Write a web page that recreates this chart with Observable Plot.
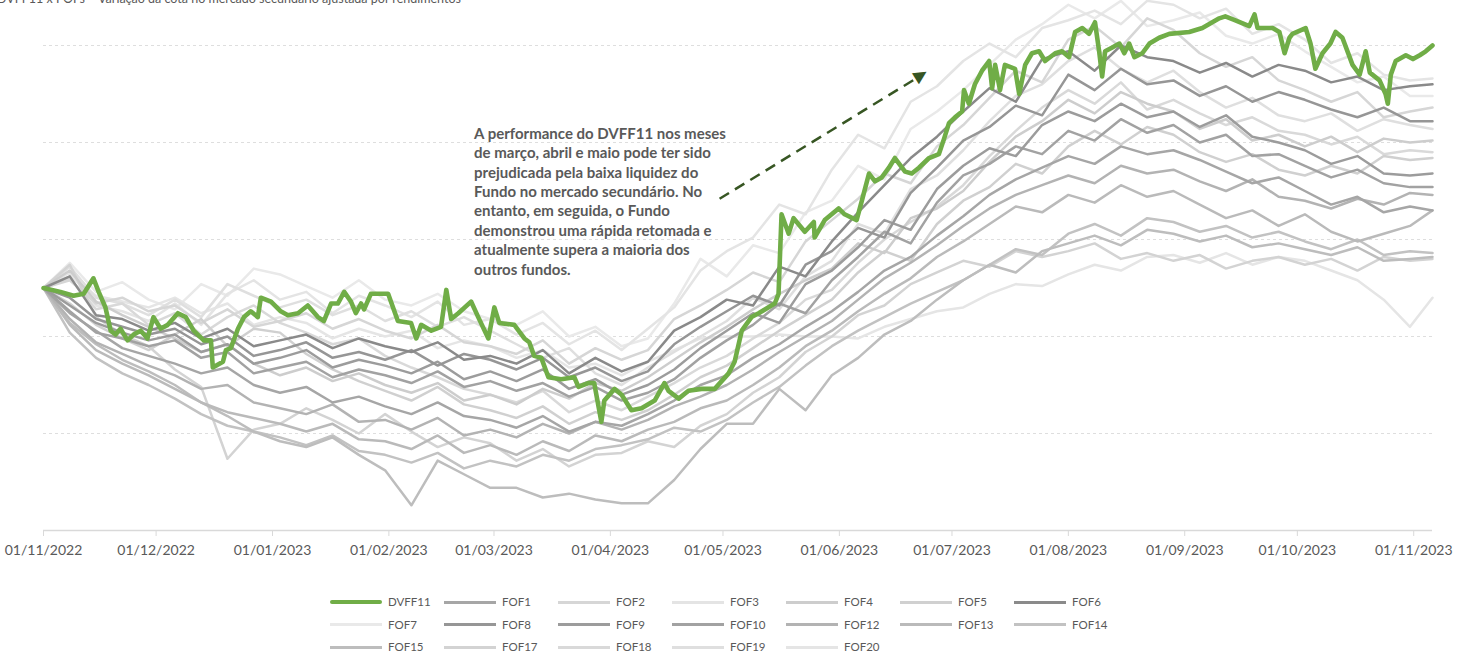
<!DOCTYPE html>
<html><head><meta charset="utf-8">
<script src="https://cdn.jsdelivr.net/npm/d3@7"></script>
<script src="https://cdn.jsdelivr.net/npm/@observablehq/plot@0.6"></script>
<style>
body{margin:0;background:#fff;font-family:Lato,"Open Sans",sans-serif;overflow:hidden;}
#wrap{position:relative;width:1465px;height:652px;overflow:hidden;background:#fff;}
#title{position:absolute;left:-3px;top:-9px;font-size:12.5px;color:#595959;white-space:nowrap;}
#chart{position:absolute;left:0;top:0;}
#legend{position:absolute;left:330px;top:591px;display:grid;grid-template-columns:repeat(7,114px);}
.item{display:flex;align-items:center;height:22.5px;font-size:11.5px;line-height:12px;color:#595959;white-space:nowrap;}
.sw{width:52px;height:0;border-top:3px solid;margin-right:6px;}
</style></head>
<body><div id="wrap">
<div id="title">DVFF11 x FOFs – Variação da cota no mercado secundário ajustada por rendimentos</div>
<div id="chart"></div>
<div id="legend"></div>
</div>
<script>
// ---------- DATA ----------
const inicio = "2022-11-01";
const meses = ["2022-11-01","2022-12-01","2023-01-01","2023-02-01","2023-03-01","2023-04-01","2023-05-01","2023-06-01","2023-07-01","2023-08-01","2023-09-01","2023-10-01","2023-11-01"];
const grade = [-7.5, -2.5, 2.5, 7.5, 12.5];
const eixoBase = -12.5;

// dias desde 01/11/2022 (semanal) para os FOFs
const dias = [0,7,14,21,28,35,42,49,56,63,70,77,84,91,98,105,112,119,126,133,140,147,154,161,168,175,182,189,196,203,210,217,224,231,238,245,252,259,266,273,280,287,294,301,308,315,322,329,336,343,350,357,364,370];

const dvffDias = [0,4.5,8.0,10.7,13.3,14.7,16.5,17.9,19.2,20.5,22.4,24.0,25.9,27.7,29.3,31.2,33.1,35.8,37.9,40.0,42.7,44.6,45.1,47.8,48.6,49.9,51.8,53.4,55.2,57.1,57.9,60.6,63.2,65.1,67.8,70.4,73.1,74.7,76.6,78.4,80.1,81.9,83.2,84.6,85.4,87.2,91.8,94.4,97.9,99.3,100.6,103.3,105.9,107.3,108.6,110.5,113.9,115.8,118.5,120.1,121.4,125.4,128.1,129.4,130.7,132.6,134.5,137.9,141.4,142.5,145.1,146.7,148.6,149.4,152.1,154.0,156.6,159.3,162.8,165.4,166.5,169.2,171.8,175.3,178.8,182.5,184.1,186.0,188.6,190.5,194.8,195.8,196.6,198.5,199.8,202.8,205.2,205.4,208.1,211.8,213.4,216.6,218.0,219.9,221.5,223.3,225.2,226.8,229.5,231.3,233.2,235.9,238.5,239.9,241.2,242.8,244.7,245.2,246.5,248.1,250.0,251.9,252.7,253.5,254.8,256.1,258.8,259.9,261.5,263.3,265.2,266.8,269.5,271.3,273.2,274.8,276.7,278.5,280.1,281.2,282.0,282.8,284.7,286.6,287.9,289.2,290.6,292.7,294.6,297.2,299.9,305.2,308.7,313.2,314.8,317.5,321.2,322.6,323.4,327.4,329.2,330.6,331.9,332.7,336.2,337.5,338.8,340.7,342.8,344.2,346.0,348.7,350.6,352.2,353.3,355.9,357.5,358.1,358.9,360.2,362.9,364.8,366.6,368.2,370.0];
const DVFF11 = [0,-0.2,-0.4,-0.3,0.5,-0.2,-1.0,-2.2,-2.4,-2.1,-2.7,-2.4,-2.2,-2.6,-1.5,-2.1,-1.9,-1.3,-1.5,-2.2,-2.7,-2.7,-4.1,-3.8,-3.2,-3.1,-2.1,-1.5,-1.2,-1.5,-0.5,-0.7,-1.2,-1.4,-1.3,-0.9,-1.5,-1.7,-0.8,-0.8,-0.2,-0.7,-1.3,-0.8,-1.1,-0.3,-0.3,-1.7,-1.8,-2.6,-1.9,-2.2,-2.0,-0.1,-1.6,-1.3,-0.7,-1.5,-2.6,-1.0,-1.8,-1.9,-2.6,-2.8,-3.5,-3.6,-4.6,-4.7,-4.6,-5.1,-4.9,-4.9,-6.9,-5.8,-5.2,-5.5,-6.3,-6.2,-5.8,-4.9,-5.3,-5.7,-5.3,-5.2,-5.2,-4.4,-3.8,-2.2,-1.5,-1.3,-0.8,-0.3,3.8,2.8,3.6,2.9,3.4,2.6,3.5,4.1,3.8,3.5,4.5,5.9,5.5,5.7,6.2,6.7,6.0,5.9,6.2,6.7,6.9,7.7,8.5,8.8,9.1,10.2,9.5,10.5,11.2,11.7,10.3,11.5,10.2,11.5,11.3,10.0,11.5,12.1,12.2,11.7,12.1,12.2,11.9,13.2,13.4,13.1,13.7,12.2,10.9,12.2,12.4,12.6,12.1,12.6,11.9,12.1,12.6,12.9,13.1,13.2,13.4,13.9,14.0,13.8,13.5,14.1,13.4,13.4,13.2,12.1,12.9,13.1,13.4,12.6,11.3,12.1,12.6,13.2,12.9,11.5,11.0,12.2,11.1,10.7,10.0,9.5,11.0,11.7,12.0,11.8,12.0,12.2,12.5];

const FOF1  = [0,-1.3,-2.2,-3.1,-3.5,-3.9,-4.4,-4.1,-5.0,-5.4,-5.1,-5.9,-5.6,-6.1,-6.5,-5.9,-6.6,-6.8,-7.2,-6.6,-7.4,-6.9,-7.1,-6.5,-5.8,-5.0,-4.5,-3.6,-2.9,-2.0,-1.2,-0.2,0.9,1.6,2.7,3.7,4.8,5.6,6.2,6.8,6.4,7.3,6.9,7.1,6.6,6.0,5.4,5.7,5.0,4.3,4.7,3.9,4.2,4.0];
const FOF2  = [0,0.4,-0.8,-0.5,-1.2,-0.9,-1.8,-1.1,-2.0,-1.7,-1.3,-2.1,-1.6,-2.2,-2.6,-1.9,-2.8,-3.0,-3.4,-2.7,-3.9,-3.1,-3.7,-3.2,-1.6,-0.9,-0.1,0.8,0.3,2.4,3.5,4.6,5.9,5.4,7.3,8.4,9.8,11.2,10.6,12.8,13.5,12.4,13.9,13.3,12.1,11.4,11.9,10.7,10.2,9.6,10.1,8.8,9.1,9.3];
const FOF3  = [0,0.8,-0.9,-1.2,-1.7,-0.8,-1.9,-0.3,0.4,-0.6,-0.2,-1.3,-0.4,-0.9,-1.5,-0.7,-1.9,-1.6,-2.4,-1.8,-2.9,-2.2,-3.2,-2.1,-1.0,0.9,1.9,2.6,4.3,3.8,6.1,7.9,7.2,9.6,10.4,11.7,12.6,11.9,13.4,13.8,14.3,13.6,14.8,14.6,13.9,14.4,13.1,13.6,12.8,11.6,12.1,11.0,10.7,10.8];
const FOF4  = [0,0.9,-0.7,-1.4,-2.0,-2.6,-3.3,-2.9,-3.9,-4.5,-4.1,-4.8,-4.4,-5.0,-5.4,-4.9,-5.8,-5.5,-6.0,-5.2,-5.7,-4.9,-5.3,-4.6,-3.7,-2.8,-2.0,-1.1,-0.3,0.4,1.0,2.3,1.8,3.6,4.1,5.0,6.5,7.8,8.6,9.7,9.0,10.1,9.5,9.1,8.2,8.7,7.6,7.9,7.3,7.8,7.0,7.7,7.5,7.6];
const FOF5  = [0,-0.8,-1.9,-2.6,-3.2,-2.4,-1.6,-3.0,-2.1,-2.3,-3.4,-4.2,-4.8,-5.3,-5.8,-5.1,-6.0,-6.3,-6.7,-6.1,-7.0,-6.4,-6.8,-6.3,-5.5,-4.6,-4.0,-3.1,-2.2,-1.4,-0.6,0.8,1.9,1.4,3.3,4.5,5.2,6.4,5.9,7.3,8.1,7.4,8.3,7.9,7.0,6.5,6.9,6.1,5.8,6.3,5.9,6.8,6.6,6.7];
const FOF6  = [0,0.6,-1.4,-1.6,-2.2,-1.8,-2.6,-2.1,-3.0,-2.7,-2.4,-3.1,-2.6,-3.0,-3.3,-2.8,-3.7,-3.5,-3.9,-3.2,-4.4,-3.6,-4.3,-3.8,-2.2,-1.5,-0.6,-0.9,1.1,0.6,2.4,3.9,5.3,6.7,7.8,9.1,10.3,9.6,11.8,12.2,11.2,12.5,11.9,11.7,11.1,11.6,10.9,11.5,11.2,10.6,10.9,10.2,10.4,10.5];
const FOF7  = [0,1.3,-0.2,0.3,-0.6,-1.1,0.2,-0.4,1.0,0.7,0.1,-0.5,0.4,-0.6,-0.9,-0.3,-1.2,-1.6,-1.9,-1.2,-2.5,-2.0,-3.0,-2.6,-0.8,1.5,0.6,2.2,1.8,3.9,4.5,6.3,5.6,8.2,9.1,10.2,11.5,12.8,13.6,14.6,13.9,14.8,13.5,13.8,14.2,13.0,12.6,13.1,12.2,11.4,10.6,10.9,9.9,9.9];
const FOF8  = [0,-0.5,-1.6,-2.0,-2.4,-2.1,-2.9,-2.5,-3.5,-3.2,-2.8,-3.6,-3.3,-3.7,-3.2,-4.0,-3.4,-3.7,-4.2,-3.6,-4.6,-4.1,-4.8,-4.3,-2.9,-2.0,-1.2,-0.4,-0.9,1.2,1.9,3.1,2.6,4.9,6.2,7.6,8.3,9.4,8.9,11.0,10.2,11.3,10.5,10.7,9.9,10.4,9.6,10.1,9.7,9.2,8.8,9.3,8.6,8.6];
const FOF9  = [0,-0.9,-1.8,-2.3,-2.7,-2.4,-3.3,-2.9,-3.9,-3.6,-3.2,-4.1,-3.7,-4.0,-4.4,-3.8,-4.7,-4.3,-4.8,-4.2,-5.2,-4.7,-5.5,-5.0,-4.2,-3.1,-2.2,-1.3,-1.8,0.2,0.9,2.1,3.5,3.0,5.1,6.3,7.2,6.8,8.4,9.1,8.6,9.5,8.8,9.1,8.3,8.9,7.8,7.5,7.1,6.4,6.8,5.9,5.8,5.9];
const FOF10 = [0,-1.2,-2.3,-2.6,-3.0,-2.7,-3.6,-3.3,-4.4,-4.1,-3.8,-4.6,-4.2,-4.5,-4.9,-4.3,-5.1,-4.8,-5.3,-4.9,-5.6,-5.1,-5.8,-5.4,-4.7,-3.6,-2.7,-1.9,-0.8,-1.3,0.4,1.6,2.9,2.3,4.4,5.8,6.4,7.3,6.9,8.1,7.6,8.7,8.0,8.4,7.5,7.9,6.8,6.9,6.3,5.7,6.1,5.4,5.2,5.2];
const FOF12 = [0,-1.6,-2.8,-3.4,-4.0,-4.5,-5.2,-5.0,-5.9,-6.2,-6.5,-6.0,-6.9,-6.8,-7.3,-6.7,-7.6,-7.3,-7.7,-7.0,-7.5,-6.9,-7.3,-6.8,-6.1,-5.6,-5.0,-4.2,-3.3,-2.5,-1.7,-0.6,0.5,1.3,2.2,3.2,4.1,4.8,5.3,5.8,5.4,6.3,5.9,6.1,5.5,5.0,5.6,4.7,4.5,4.1,4.6,4.3,4.9,4.8];
const FOF13 = [0,-1.9,-3.2,-3.9,-4.5,-5.2,-5.9,-6.4,-6.7,-7.0,-7.4,-7.0,-7.8,-7.9,-8.3,-7.6,-8.5,-8.1,-8.6,-7.9,-8.4,-7.6,-7.9,-7.3,-6.9,-6.2,-5.8,-5.0,-4.1,-3.0,-2.2,-1.2,-0.3,0.5,1.6,2.4,3.3,4.2,3.9,4.8,4.4,5.3,4.7,5.0,4.3,3.6,4.0,3.2,3.8,2.9,2.4,2.8,3.2,4.0];
const FOF14 = [0,-2.3,-3.6,-4.4,-5.0,-5.7,-6.5,-7.1,-7.4,-7.7,-8.1,-7.6,-8.4,-8.6,-9.0,-8.5,-9.3,-8.9,-9.2,-8.6,-8.9,-8.3,-8.1,-7.8,-7.2,-7.4,-6.8,-5.9,-5.1,-4.0,-3.0,-2.2,-1.5,-0.8,-0.2,0.4,1.2,2.0,1.7,2.8,3.3,2.7,3.6,3.4,2.9,3.2,2.6,2.9,2.4,2.0,2.5,1.7,1.9,1.8];
const FOF15 = [0,-1.8,-2.9,-3.7,-4.3,-5.0,-5.9,-6.6,-7.4,-7.9,-8.2,-7.7,-8.6,-9.4,-11.2,-8.9,-9.6,-10.3,-10.3,-10.8,-10.6,-10.9,-11.1,-11.1,-9.9,-8.3,-7.0,-7.0,-5.2,-6.3,-4.5,-3.6,-2.4,-1.7,-0.6,0.4,1.2,0.8,1.9,2.3,2.7,2.2,3.0,2.8,2.4,2.7,2.1,2.3,2.0,1.7,2.1,1.4,1.5,1.6];
const FOF17 = [0,1.2,-1.5,-2.4,-3.0,-4.2,-5.1,-8.8,-7.3,-7.0,-6.2,-6.8,-7.5,-6.5,-7.4,-8.2,-7.7,-8.0,-8.9,-8.3,-9.2,-8.6,-8.5,-7.9,-8.2,-7.1,-6.5,-5.4,-4.6,-3.3,-2.5,-1.4,-0.9,0.2,0.8,1.4,1.1,1.9,1.6,1.9,2.3,1.5,1.8,1.4,1.7,1.0,1.4,1.6,1.2,1.5,0.9,1.6,1.4,1.5];
const FOF18 = [0,0.5,-1.1,-0.8,-1.9,-1.3,-2.4,-1.5,-0.9,-1.8,-2.3,-2.9,-2.6,-3.5,-4.1,-4.6,-5.2,-5.5,-5.9,-5.3,-6.4,-5.8,-6.3,-5.6,-4.9,-4.1,-3.5,-2.6,-1.8,-0.6,-0.1,1.3,2.5,3.4,4.2,5.3,6.8,8.1,9.3,10.2,9.5,10.6,9.2,9.7,9.0,8.4,8.8,8.1,7.9,7.4,7.8,6.9,7.1,7.0];
const FOF19 = [0,1.1,-0.5,-0.8,-1.4,-0.6,-1.5,0.2,-0.4,-1.0,-0.6,-1.4,-0.9,-1.7,-1.2,-2.0,-1.5,-2.2,-2.9,-3.6,-3.1,-4.4,-5.0,-4.1,-3.3,-2.5,-1.7,-0.5,-1.1,0.6,1.4,3.3,2.8,5.1,5.8,7.1,8.6,9.9,10.5,11.7,12.4,11.3,10.6,11.2,10.1,9.3,9.8,8.9,8.6,9.0,8.1,8.7,8.4,8.2];
const FOF20 = [0,0.6,-0.4,-0.7,-1.0,-0.5,-1.3,-0.8,-1.9,-1.5,-1.8,-2.6,-2.1,-2.5,-2.2,-3.1,-2.7,-3.0,-3.6,-3.2,-4.1,-3.9,-4.5,-3.8,-3.2,-2.6,-2.5,-2.5,-2.4,-2.5,-2.5,-2.6,-2.0,-1.6,-1.2,-1.0,-0.3,0.2,0.1,0.7,1.2,0.9,1.6,1.7,1.3,1.8,1.2,1.6,1.4,0.9,0.4,-0.6,-2.0,-0.5];

const nomes = ["DVFF11","FOF1","FOF2","FOF3","FOF4","FOF5","FOF6","FOF7","FOF8","FOF9","FOF10","FOF12","FOF13","FOF14","FOF15","FOF17","FOF18","FOF19","FOF20"];
const cores = ["#70ad47","#a6a6a6","#d6d6d6","#e4e4e4","#cdcdcd","#d0d0d0","#8a8a8a","#e9e9e9","#969696","#9c9c9c","#a2a2a2","#b3b3b3","#bababa","#c2c2c2","#bdbdbd","#d3d3d3","#d9d9d9","#dfdfdf","#e5e5e5"];
const valoresFOF = [FOF1,FOF2,FOF3,FOF4,FOF5,FOF6,FOF7,FOF8,FOF9,FOF10,FOF12,FOF13,FOF14,FOF15,FOF17,FOF18,FOF19,FOF20];

const notaTexto = "A performance do DVFF11 nos meses\nde março, abril e maio pode ter sido\nprejudicada pela baixa liquidez do\nFundo no mercado secundário. No\nentanto, em seguida, o Fundo\ndemonstrou uma rápida retomada e\natualmente supera a maioria dos\noutros fundos.";
const notaPos = {dia: 114.7, valor: 8.4};
const seta = {dia1: 180.1, valor1: 4.6, dia2: 232.0, valor2: 10.75, diaPonta: 234.0, valorPonta: 11.0};

// ---------- BUILD ----------
const t0 = Date.parse(inicio + "T00:00:00Z");
const toDate = d => new Date(t0 + d * 864e5);
const parse = s => new Date(s + "T00:00:00Z");

const fofSeries = valoresFOF.map((vals, i) => ({
  nome: nomes[i + 1], cor: cores[i + 1],
  pts: vals.map((v, j) => ({date: toDate(dias[j]), value: v}))
}));
const lum = c => parseInt(c.slice(1, 3), 16);
fofSeries.sort((a, b) => lum(b.cor) - lum(a.cor));
const dvff = DVFF11.map((v, j) => ({date: toDate(dvffDias[j]), value: v}));

const marks = [
  Plot.ruleY(grade, {stroke: "#dedede", strokeWidth: 1, strokeDasharray: "3,3"}),
  Plot.ruleY([eixoBase], {stroke: "#d9d9d9", strokeWidth: 1.5}),
  Plot.axisX(meses.map(parse), {tickSize: 6, tickPadding: 9, stroke: "#d9d9d9", fill: "#595959", fontSize: 14, tickFormat: d3.utcFormat("%d/%m/%Y"), label: null, fontFamily: "Lato"}),
  ...fofSeries.map(s => Plot.line(s.pts, {x: "date", y: "value", stroke: s.cor, strokeWidth: 2.5, strokeLinejoin: "round"})),
  Plot.line(dvff, {x: "date", y: "value", stroke: "#70ad47", strokeWidth: 4.6, strokeLinejoin: "round", strokeLinecap: "round"}),
  Plot.link([seta], {x1: d => toDate(d.dia1), y1: "valor1", x2: d => toDate(d.dia2), y2: "valor2", stroke: "#375623", strokeWidth: 2.5, strokeDasharray: "11,7"}),
  Plot.text([seta], {x: d => toDate(d.diaPonta), y: "valorPonta", text: () => "\u25B2", rotate: 58, fontSize: 17, fill: "#375623", fontFamily: "DejaVu Sans", textAnchor: "middle", lineAnchor: "middle"}),
  Plot.text([notaPos], {x: d => toDate(d.dia), y: "valor", text: () => notaTexto, textAnchor: "start", lineAnchor: "top", lineHeight: 1.293, fontSize: 15, fontWeight: "bold", fill: "#595959", fontFamily: "Lato"})
];

const chart = Plot.plot({
  width: 1465, height: 580,
  marginTop: 45, marginBottom: 50, marginLeft: 43, marginRight: 33,
  style: {fontFamily: "Lato", background: "transparent", overflow: "visible"},
  x: {type: "utc", domain: [toDate(0), toDate(370)], axis: null},
  y: {domain: [-12.5, 12.5], axis: null},
  marks
});
document.getElementById("chart").appendChild(chart);

// legend
const leg = document.getElementById("legend");
nomes.forEach((n, i) => {
  const it = document.createElement("div");
  it.className = "item";
  const sw = document.createElement("span");
  sw.className = "sw";
  sw.style.borderTopColor = cores[i];
  if (i === 0) { sw.style.borderTopWidth = "4px"; sw.style.borderRadius = "2px"; }
  it.appendChild(sw);
  it.appendChild(document.createTextNode(n));
  leg.appendChild(it);
});
</script>
</body></html>
